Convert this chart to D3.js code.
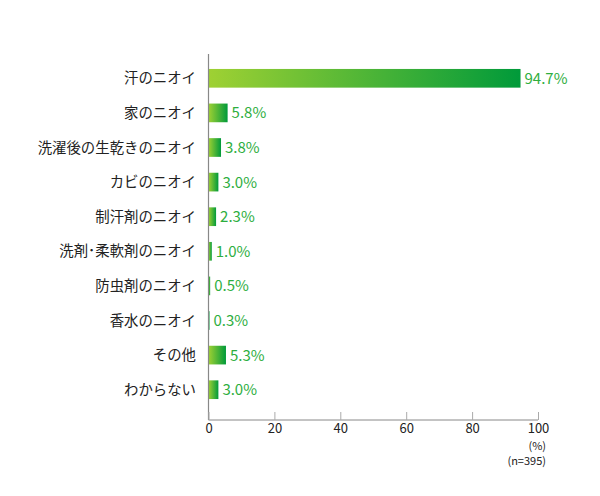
<!DOCTYPE html>
<html><head><meta charset="utf-8">
<script src="https://cdn.jsdelivr.net/npm/d3@7"></script>
<style>
body{margin:0;background:#fff;}
svg{display:block;font-family:"Noto Sans CJK JP","Noto Sans",sans-serif;}
</style></head>
<body><svg id="c" width="600" height="496"></svg>
<script>
const categories = ["汗のニオイ","家のニオイ","洗濯後の生乾きのニオイ","カビのニオイ","制汗剤のニオイ","洗剤･柔軟剤のニオイ","防虫剤のニオイ","香水のニオイ","その他","わからない"];
const values = [94.7,5.8,3.8,3.0,2.3,1.0,0.5,0.3,5.3,3.0];
const tickValues = [0,20,40,60,80,100];
const unitLabel = "(%)";
const sampleLabel = "(n=395)";

const svg = d3.select("#c");
const x = d3.scaleLinear().domain([0,100]).range([208.5,538]);
const y = d3.scaleBand().domain(categories).range([61,407]).paddingInner(0.46).paddingOuter(0.23);

const defs = svg.append("defs");
const grad = defs.append("linearGradient").attr("id","g").attr("x1","0").attr("x2","1").attr("y1","0").attr("y2","0");
grad.append("stop").attr("offset","0%").attr("stop-color","#9fd133");
grad.append("stop").attr("offset","100%").attr("stop-color","#009a3a");

svg.selectAll("rect.bar").data(values).enter().append("rect")
  .attr("class","bar")
  .attr("x", x(0))
  .attr("y",(d,i)=>y(categories[i]))
  .attr("width",d=>x(d)-x(0))
  .attr("height",y.bandwidth())
  .attr("fill","url(#g)");

svg.selectAll("text.val").data(values).enter().append("text")
  .attr("class","val")
  .attr("x",d=>x(d)+4)
  .attr("y",(d,i)=>y(categories[i])+y.bandwidth()/2)
  .attr("dy","0.36em")
  .attr("font-size",15)
  .attr("fill","#2eae3e")
  .text(d=>d.toFixed(1)+"%");

svg.selectAll("text.cat").data(categories).enter().append("text")
  .attr("class","cat")
  .attr("x",196)
  .attr("y",d=>y(d)+y.bandwidth()/2)
  .attr("dy","0.36em")
  .attr("text-anchor","end")
  .attr("font-size",14.4)
  .attr("fill","#222")
  .text(d=>d);

svg.append("line").attr("x1",x(0)).attr("x2",x(0)).attr("y1",54).attr("y2",420).attr("stroke","#888").attr("stroke-width",1.2);
const ax = svg.append("g").attr("transform","translate(0,420)")
  .call(d3.axisBottom(x).tickValues(tickValues).tickSize(-8).tickPadding(4).tickFormat(d3.format("d")));
ax.select(".domain").attr("stroke","#888").attr("d",`M${x(0)},0H${x(100)}`);
ax.selectAll(".tick line").attr("stroke","#aaa");
ax.selectAll(".tick text").attr("font-size",13).attr("fill","#222").attr("font-family","'Noto Sans CJK JP','Noto Sans',sans-serif");

svg.append("text").attr("x",546).attr("y",450).attr("text-anchor","end").attr("font-size",11).attr("fill","#222").text(unitLabel);
svg.append("text").attr("x",546).attr("y",465).attr("text-anchor","end").attr("font-size",11).attr("fill","#222").text(sampleLabel);
</script></body></html>
